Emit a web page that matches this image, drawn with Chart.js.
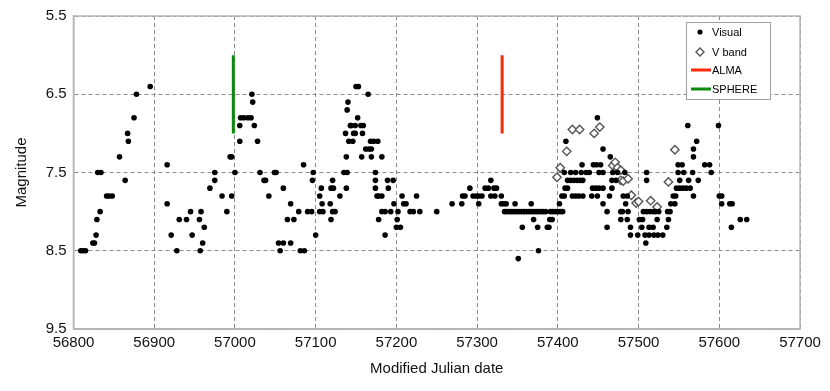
<!DOCTYPE html>
<html>
<head>
  <title>Light curve: visual and V band magnitudes</title>
  <script src="https://cdn.jsdelivr.net/npm/chart.js"></script>
  <style>
    body { margin: 0; background: #fff; }
    canvas { display: block; }
  </style>
</head>
<body>
  <canvas id="lightCurve" width="830" height="391"></canvas>

  <script>
    // Visual estimates (MJD, magnitude)
    const visualMjd = [
      56809, 56812, 56815, 56824, 56826, 56828, 56829, 56833, 56830, 56834, 56841, 56844, 56848, 56857, 56864, 56867, 56868, 56875, 56878, 56895, 56916, 56916, 56921,
      56928, 56931, 56940, 56945, 56947, 56956, 56957, 56958, 56960, 56962, 56969, 56975, 56975, 56984, 56990, 56994, 56996, 56996, 57000, 57006, 57006, 57007, 57011, 57016, 57020, 57021, 57022, 57024, 57028, 57031,
      57036, 57038, 57042, 57049, 57051, 57054, 57056, 57060, 57060, 57065, 57069, 57069, 57073, 57079, 57081, 57085, 57086, 57090, 57095, 57096, 57097, 57100, 57105, 57105, 57107, 57108, 57109, 57118, 57119, 57119, 57121, 57121, 57122, 57124, 57130, 57135, 57137, 57138, 57138, 57139, 57139, 57140, 57141, 57143,
      57144, 57146, 57147, 57149, 57149, 57150, 57152, 57153, 57156, 57157, 57158, 57159, 57162, 57165, 57166, 57168, 57169, 57169, 57172, 57174, 57174, 57174, 57176, 57177, 57178, 57178, 57182, 57182, 57182, 57186, 57186, 57189, 57190, 57193, 57196, 57197, 57200, 57201, 57202, 57205, 57207, 57209, 57212, 57217, 57221, 57225, 57229, 57250,
      57269, 57281, 57282, 57285, 57291, 57295, 57299, 57302, 57302, 57306, 57310, 57314, 57317, 57317, 57321, 57322, 57324, 57330, 57330, 57333, 57336, 57334, 57337, 57340, 57343, 57346, 57347, 57349, 57351, 57352, 57355, 57356, 57358, 57361, 57364, 57367, 57367, 57370, 57370, 57373, 57375, 57376, 57376, 57379, 57382, 57385, 57387, 57389, 57390, 57393, 57391, 57394, 57397, 57400, 57403, 57406, 57402, 57405, 57408,
      57408, 57409, 57410, 57412, 57412, 57416, 57416, 57418, 57420, 57422, 57422, 57424, 57426, 57428, 57429, 57430, 57431, 57431, 57435, 57439, 57442, 57443, 57444, 57447, 57448, 57449, 57449, 57451, 57451, 57453, 57456, 57456, 57456, 57456, 57461, 57461, 57464, 57465, 57467, 57467, 57468, 57472, 57474, 57478, 57478,
      57480, 57481, 57483, 57484, 57486, 57486, 57487, 57490, 57490, 57499, 57501, 57504, 57505, 57506, 57509, 57508, 57510, 57510, 57510, 57513, 57513, 57514, 57518, 57518, 57519, 57521, 57523, 57524, 57525, 57530, 57535, 57536, 57537, 57539, 57540, 57543, 57545, 57546, 57547, 57549, 57549, 57551, 57551, 57554, 57555, 57556, 57559, 57561, 57562, 57564, 57567, 57568, 57568, 57568, 57572, 57574, 57582, 57588, 57590, 57599, 57600, 57603, 57603, 57613, 57616, 57615, 57626, 57634
    ];
    const visualMag = [
      8.5, 8.5, 8.5, 8.4, 8.4, 8.3, 8.1, 8.0, 7.5, 7.5, 7.8, 7.8, 7.8, 7.3, 7.6, 7.0, 7.1, 6.8, 6.5, 6.4, 7.4, 7.9, 8.3,
      8.5, 8.1, 8.1, 8.0, 8.3, 8.1, 8.5, 8.0, 8.4, 8.2, 7.7, 7.5, 7.6, 7.8, 8.0, 7.3, 7.3, 7.8, 7.5, 7.1, 6.9, 6.8, 6.8, 6.8, 6.8, 6.5, 6.6, 6.9, 7.1, 7.5,
      7.6, 7.6, 7.8, 7.5, 7.5, 8.4, 8.5, 7.7, 8.4, 8.1, 7.9, 8.4, 8.1, 8.0, 8.5, 7.4, 8.5, 8.0, 8.0, 7.6, 7.5, 8.3, 7.8, 8.0, 7.7, 7.9, 8.0, 7.9, 7.7, 8.1, 7.6, 8.0, 7.7, 8.0, 7.8, 7.5, 7.0, 7.3, 7.7, 7.5, 6.7, 6.6, 7.1, 6.9,
      6.9, 7.1, 7.0, 6.9, 7.0, 6.4, 6.8, 6.4, 6.9, 7.3, 7.0, 6.9, 7.2, 6.5, 7.2, 7.1, 7.2, 7.3, 7.1, 7.5, 7.6, 7.7, 7.8, 7.1, 7.8, 8.1, 7.3, 7.8, 8.0, 8.0, 8.3, 7.6, 7.7, 8.0, 7.6, 7.9, 8.2, 8.1, 8.0, 8.2, 7.8, 7.9, 7.9, 8.0, 8.0, 7.8, 8.0, 8.0,
      7.9, 7.9, 7.8, 7.8, 7.7, 7.8, 7.8, 7.8, 7.9, 7.8, 7.7, 7.7, 7.6, 7.8, 7.7, 7.8, 7.7, 7.8, 7.9, 7.9, 7.9, 8.0, 8.0, 8.0, 8.0, 8.0, 7.9, 8.0, 8.6, 8.0, 8.0, 8.2, 8.0, 8.0, 8.0, 7.9, 8.0, 8.0, 8.1, 8.0, 8.2, 8.5, 8.0, 8.0, 8.0, 8.0, 8.2, 8.2, 8.1, 8.1, 8.0, 8.0, 8.0, 8.0, 8.0, 8.0, 7.9, 7.8, 7.8,
      7.5, 7.7, 7.1, 7.6, 7.7, 7.5, 7.6, 7.8, 7.6, 7.5, 7.8, 7.6, 7.8, 7.6, 7.5, 7.4, 7.6, 7.8, 7.5, 7.5, 7.8, 7.7, 7.4, 7.7, 7.4, 6.8, 7.8, 7.5, 7.7, 7.4, 7.5, 7.2, 7.7, 7.9, 8.0, 8.2, 7.8, 7.3, 7.6, 7.7, 7.5, 7.6, 7.5, 8.0, 8.1,
      8.0, 7.8, 7.5, 7.9, 7.8, 8.1, 8.0, 8.2, 8.3, 8.3, 8.1, 8.2, 8.1, 8.0, 8.4, 8.3, 8.0, 7.5, 7.6, 8.2, 8.3, 8.0, 8.0, 8.2, 8.3, 8.0, 8.1, 8.3, 8.0, 8.3, 8.2, 8.0, 8.1, 8.0, 7.9, 7.8, 7.9, 7.8, 7.7, 7.4, 7.5, 7.6, 7.7, 7.4, 7.7, 7.5, 7.7, 6.9, 7.6, 7.7, 7.5, 7.8, 7.3, 7.2, 7.1, 7.6, 7.4, 7.4, 7.5, 6.9, 7.8, 7.8, 7.9, 7.9, 7.9, 8.2, 8.1, 8.1
    ];

    // V band photometry
    const vbandMjd = [57399, 57403, 57411, 57418, 57427, 57445, 57452, 57468, 57471, 57474, 57478, 57478, 57481, 57487, 57491, 57497, 57500, 57515, 57523, 57537, 57545];
    const vbandMag = [7.56, 7.44, 7.23, 6.95, 6.95, 7.00, 6.92, 7.41, 7.37, 7.44, 7.47, 7.60, 7.61, 7.58, 7.79, 7.89, 7.87, 7.86, 7.94, 7.62, 7.21];

    // observation epochs, drawn as vertical bars
    const almaMjd = [57331, 57331];
    const almaMag = [6.0, 7.0];
    const sphereMjd = [56998, 56998];
    const sphereMag = [6.0, 7.0];

    const xTicks = [56800, 56900, 57000, 57100, 57200, 57300, 57400, 57500, 57600, 57700];
    const yTicks = [5.5, 6.5, 7.5, 8.5, 9.5];

    const toPoints = (xs, ys) => xs.map((x, i) => ({ x: x, y: ys[i] }));

    const FONT = '"Liberation Sans", Arial, Helvetica, sans-serif';

    // solid frame round the plot area
    const frame = {
      id: 'frame',
      beforeDatasetsDraw(chart) {
        const { ctx, chartArea: a } = chart;
        ctx.save();
        ctx.strokeStyle = '#b4b4b4';
        ctx.lineWidth = 1.5;
        ctx.strokeRect(a.left, a.top, a.right - a.left, a.bottom - a.top);
        ctx.restore();
      }
    };

    // boxed legend in the top right corner of the plot
    const insideLegend = {
      id: 'insideLegend',
      afterDraw(chart) {
        const { ctx, chartArea: a } = chart;
        const bx = a.right - 114, by = a.top + 6, bw = 84, bh = 77;
        ctx.save();
        ctx.fillStyle = '#fff';
        ctx.fillRect(bx, by, bw, bh);
        ctx.strokeStyle = '#a0a0a0';
        ctx.lineWidth = 1;
        ctx.strokeRect(bx + 0.5, by + 0.5, bw, bh);

        const rows = [10, 30, 48, 67];
        ctx.font = '11px ' + FONT;
        ctx.textBaseline = 'middle';
        ctx.fillStyle = '#000';
        chart.data.datasets.forEach((ds, i) => {
          const y = by + rows[i];
          if (ds.showLine) {
            ctx.strokeStyle = ds.borderColor;
            ctx.lineWidth = 3;
            ctx.beginPath();
            ctx.moveTo(bx + 5, y);
            ctx.lineTo(bx + 25, y);
            ctx.stroke();
          } else if (ds.pointStyle === 'rectRot') {
            ctx.fillStyle = '#fff';
            ctx.strokeStyle = ds.borderColor;
            ctx.lineWidth = 1.4;
            ctx.beginPath();
            ctx.moveTo(bx + 14, y - 4);
            ctx.lineTo(bx + 18, y);
            ctx.lineTo(bx + 14, y + 4);
            ctx.lineTo(bx + 10, y);
            ctx.closePath();
            ctx.fill();
            ctx.stroke();
          } else {
            ctx.fillStyle = '#000';
            ctx.beginPath();
            ctx.arc(bx + 14, y, 2.6, 0, Math.PI * 2);
            ctx.fill();
          }
          ctx.fillStyle = '#000';
          ctx.fillText(ds.label, bx + 26, y + 0.5);
        });
        ctx.restore();
      }
    };

    const ctx = document.getElementById('lightCurve').getContext('2d');
    new Chart(ctx, {
      type: 'scatter',
      data: {
        datasets: [
          {
            label: 'Visual',
            data: toPoints(visualMjd, visualMag),
            pointRadius: 2.8,
            pointBackgroundColor: '#000',
            pointBorderWidth: 0,
            borderColor: '#000'
          },
          {
            label: 'V band',
            data: toPoints(vbandMjd, vbandMag),
            pointStyle: 'rectRot',
            pointRadius: 4.2,
            pointBackgroundColor: '#fff',
            pointBorderColor: '#555',
            borderColor: '#555',
            pointBorderWidth: 1.4
          },
          {
            label: 'ALMA',
            data: toPoints(almaMjd, almaMag),
            showLine: true,
            borderColor: '#ff2a0a',
            borderWidth: 3,
            pointRadius: 0
          },
          {
            label: 'SPHERE',
            data: toPoints(sphereMjd, sphereMag),
            showLine: true,
            borderColor: '#0a8a0a',
            borderWidth: 3,
            pointRadius: 0
          }
        ]
      },
      options: {
        responsive: false,
        animation: false,
        layout: { padding: { left: 9, right: 30, top: 14, bottom: 9 } },
        plugins: {
          legend: { display: false },
          tooltip: { enabled: false }
        },
        scales: {
          x: {
            type: 'linear',
            min: 56800,
            max: 57700,
            afterBuildTicks: axis => { axis.ticks = xTicks.map(v => ({ value: v })); },
            afterFit: axis => { axis.height = 53; },
            ticks: {
              color: '#111',
              font: { family: FONT, size: 15 },
              padding: 5,
              callback: v => String(v)
            },
            grid: { color: '#8c8c8c', lineWidth: 1, drawTicks: false },
            border: { display: true, color: '#b4b4b4', width: 1.5, dash: [4, 3] },
            title: {
              display: true,
              text: 'Modified Julian date',
              color: '#111',
              font: { family: FONT, size: 15 },
              padding: { top: 2, bottom: 4 }
            }
          },
          y: {
            type: 'linear',
            reverse: true,
            min: 5.5,
            max: 9.5,
            afterBuildTicks: axis => { axis.ticks = yTicks.map(v => ({ value: v })); },
            afterFit: axis => { axis.width = 64.5; },
            ticks: {
              color: '#111',
              font: { family: FONT, size: 15 },
              padding: 7,
              callback: v => v.toFixed(1)
            },
            grid: { color: '#8c8c8c', lineWidth: 1, drawTicks: false },
            border: { display: true, color: '#b4b4b4', width: 1.5, dash: [4, 3] },
            title: {
              display: true,
              text: 'Magnitude',
              color: '#111',
              font: { family: FONT, size: 15 },
              padding: { top: 4, bottom: 2 }
            }
          }
        }
      },
      plugins: [frame, insideLegend]
    });
  </script>
</body>
</html>
